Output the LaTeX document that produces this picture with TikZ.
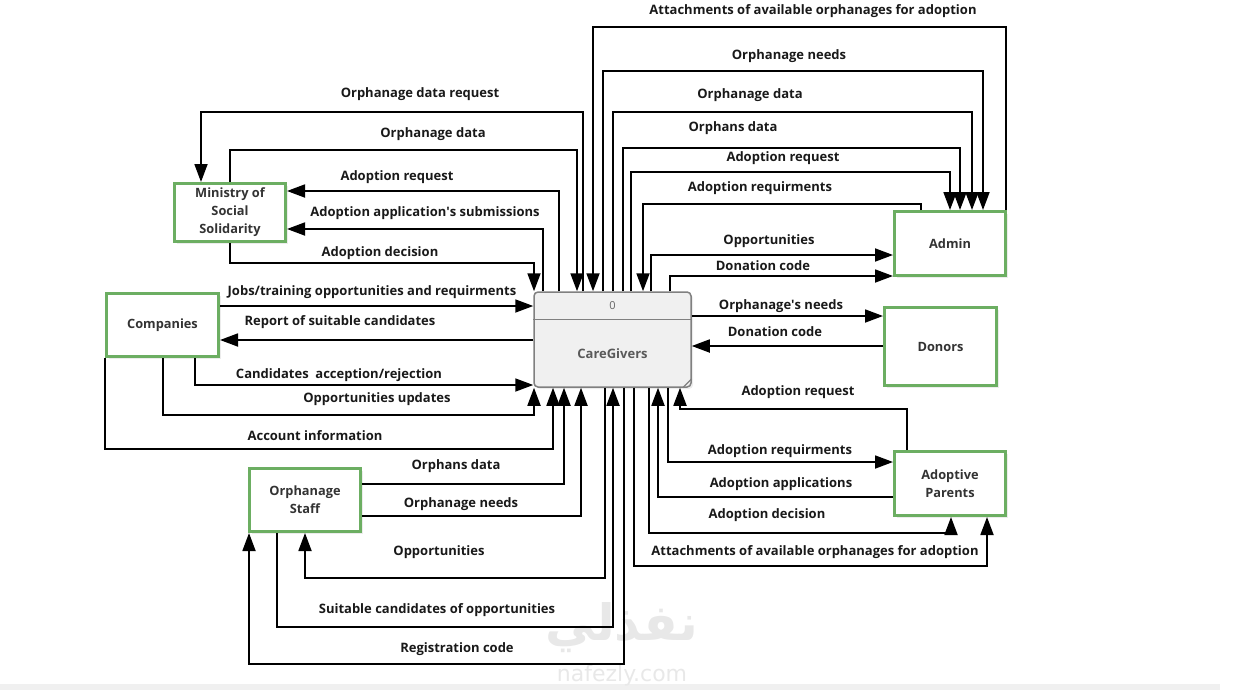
\documentclass[tikz,border=0pt]{standalone}
\usepackage{fontspec}
\setmainfont{Open Sans}
\newfontfamily\arabicfont[Script=Arabic]{DejaVu Sans}
\newfontfamily\wmfont{DejaVu Sans}
\TeXXeTstate=1
\usepackage{xcolor}
\usetikzlibrary{shapes, arrows.meta, positioning, calc, shadows}
\definecolor{boxgreen}{RGB}{108,174,98}
\definecolor{procgray}{RGB}{240,240,240}

\begin{document}
\begin{tikzpicture}[x=1pt, y=-1pt,
  entity/.style={rectangle, draw=boxgreen, line width=3pt, fill=white, text=black!80, align=center,
    font=\fontsize{12.8}{18}\selectfont\bfseries, drop shadow={opacity=0.15, shadow xshift=2pt, shadow yshift=-2pt}},
  process/.style={rectangle, rounded corners=4pt, draw=black!50, line width=1.5pt, fill=procgray,
    minimum width=157pt, minimum height=95pt, drop shadow={opacity=0.15, shadow xshift=2pt, shadow yshift=-2pt}},
  flow/.style={line width=1.8pt, -{Triangle[length=18pt,width=13pt]}},
  lbl/.style={font=\fontsize{13}{15}\selectfont\bfseries, text=black!90, inner sep=0pt, yshift=-1.5pt}]
\useasboundingbox (0,0) rectangle (1246,690);
\fill[black!6] (0,684) rectangle (1220,690);
\node (wmar) [text=black!9, font=\arabicfont\fontsize{50}{50}\selectfont\bfseries] at (622,628) {\beginR نفذلي\endR};
\node (wmen) [text=black!9, font=\wmfont\fontsize{22}{22}\selectfont] at (622,675) {nafezly.com};

\node (ministry) [entity, minimum width=111pt, minimum height=58pt] at (230,212.5) {Ministry of\\Social\\Solidarity};
\node (companies) [entity, minimum width=112pt, minimum height=63pt] at (162.5,325) {Companies};
\node (staff) [entity, minimum width=111pt, minimum height=63pt] at (305,500) {Orphanage\\Staff};
\node (admin) [entity, minimum width=111pt, minimum height=64pt] at (950,243.5) {Admin};
\node (donors) [entity, minimum width=112pt, minimum height=78pt] at (940.5,346.5) {Donors};
\node (parents) [entity, minimum width=111pt, minimum height=64pt] at (950,483.5) {Adoptive\\Parents};
\node (care) [process] at (612.5,339.5) {};
\draw[black!50, line width=1.5pt] ([yshift=-28pt]care.north west) -- ([yshift=-28pt]care.north east);
\draw[black!50, line width=1.2pt] ([xshift=-9pt]care.south east) -- ([yshift=9pt]care.south east);
\node (carenum) [text=black!60, font=\fontsize{11}{13}\selectfont] at ([yshift=-14pt]care.north) {0};
\node (carename) [text=black!65, font=\fontsize{13}{15}\selectfont\bfseries] at ([yshift=-14pt]care.center) {CareGivers};

\draw[flow] (care.north -| 583,0) |- (201,112) -- (ministry.north -| 201,0);
\draw[flow] (ministry.north) |- (577,150) -- (care.north -| 577,0);
\draw[flow] (care.north -| 559,0) |- (ministry.east |- 0,191);
\draw[flow] (care.north -| 543,0) |- (ministry.east |- 0,229);
\draw[flow] (ministry.south) |- (534,263) -- (care.north -| 534,0);
\node (t-odr) [lbl] at (420,93) {Orphanage data request};
\node (t-mod) [lbl] at (433,133) {Orphanage data};
\node (t-mar) [lbl] at (397,176) {Adoption request};
\node (t-mas) [lbl] at (425,212) {Adoption application\textquotesingle s submissions};
\node (t-mad) [lbl] at (380,252) {Adoption decision};

\draw[flow] (companies.east |- 0,306) -- (care.west |- 0,306);
\draw[flow] (care.west |- 0,340) -- (companies.east |- 0,340);
\draw[flow] (companies.south -| 195,0) |- (care.west |- 0,385);
\draw[flow] (companies.south -| 163,0) |- (534,415) -- (care.south -| 534,0);
\draw[flow] (companies.south -| 105,0) |- (553,449) -- (care.south -| 553,0);
\node (t-job) [lbl] at (372,291) {Jobs/training opportunities and requirments};
\node (t-rep) [lbl] at (340,321) {Report of suitable candidates};
\node (t-cand) [lbl] at (339,374) {Candidates\ \ acception/rejection};
\node (t-oup) [lbl] at (377,398) {Opportunities updates};
\node (t-acc) [lbl] at (315,434) {Account information};

\draw[flow] (staff.east |- 0,484) -| (care.south -| 564,0);
\draw[flow] (staff.east |- 0,516) -| (care.south -| 581,0);
\draw[flow] (care.south -| 605,0) |- (305,578) -- (staff.south -| 305,0);
\draw[flow] (staff.south -| 277,0) |- (613,627) -- (care.south -| 613,0);
\draw[flow] (care.south -| 624,0) |- (249,664) -- (staff.south -| 249,0);
\node (t-sod) [lbl] at (456,465) {Orphans data};
\node (t-son) [lbl] at (461,503) {Orphanage needs};
\node (t-sop) [lbl] at (439,551) {Opportunities};
\node (t-ssc) [lbl] at (437,609) {Suitable candidates of opportunities};
\node (t-src) [lbl] at (457,648) {Registration code};

\draw[flow] (admin.north -| 1006,0) |- (593,27) -- (care.north -| 593,0);
\draw[flow] (care.north -| 603,0) |- (983,71) -- (admin.north -| 983,0);
\draw[flow] (care.north -| 613,0) |- (972,112) -- (admin.north -| 972,0);
\draw[flow] (care.north -| 623,0) |- (960,148) -- (admin.north -| 960,0);
\draw[flow] (care.north -| 631,0) |- (950,172) -- (admin.north -| 950,0);
\draw[flow] (admin.north -| 921,0) |- (643,204) -- (care.north -| 643,0);
\draw[flow] (care.north -| 651,0) |- (admin.west |- 0,255);
\draw[flow] (care.north -| 670,0) |- (admin.west |- 0,276);
\node (t-aat) [lbl] at (813,10) {Attachments of available orphanages for adoption};
\node (t-aon) [lbl] at (789,55) {Orphanage needs};
\node (t-aod) [lbl] at (750,94) {Orphanage data};
\node (t-aor) [lbl] at (733,127) {Orphans data};
\node (t-aar) [lbl] at (783,157) {Adoption request};
\node (t-aaq) [lbl] at (760,187) {Adoption requirments};
\node (t-aop) [lbl] at (769,240) {Opportunities};
\node (t-adc) [lbl] at (763,264) {Donation code};

\draw[flow] (care.east |- 0,316) -- (donors.west |- 0,316);
\draw[flow] (donors.west |- 0,346) -- (care.east |- 0,346);
\node (t-don) [lbl] at (781,305) {Orphanage\textquotesingle s needs};
\node (t-ddc) [lbl] at (775,330) {Donation code};

\draw[flow] (parents.north -| 907,0) |- (680,409) -- (care.south -| 680,0);
\draw[flow] (care.south -| 668,0) |- (parents.west |- 0,462);
\draw[flow] (parents.west |- 0,497) -| (care.south -| 658,0);
\draw[flow] (care.south -| 649,0) |- (951,533) -- (parents.south -| 951,0);
\draw[flow] (care.south -| 634,0) |- (987,566) -- (parents.south -| 987,0);
\node (t-par) [lbl] at (798,391) {Adoption request};
\node (t-paq) [lbl] at (780,450) {Adoption requirments};
\node (t-pap) [lbl] at (781,483) {Adoption applications};
\node (t-pad) [lbl] at (767,514) {Adoption decision};
\node (t-pat) [lbl] at (815,551) {Attachments of available orphanages for adoption};
\end{tikzpicture}
\end{document}
